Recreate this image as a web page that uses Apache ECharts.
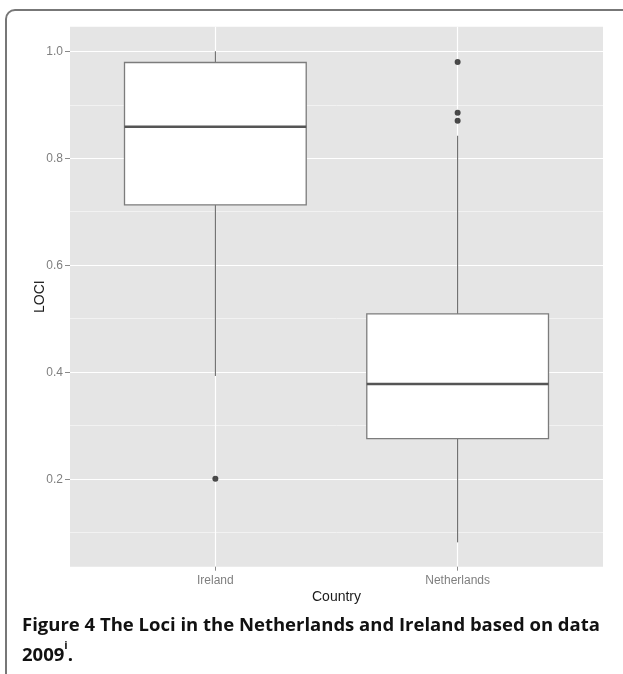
<!DOCTYPE html>
<html>
<head>
<meta charset="utf-8">
<script src="https://cdn.jsdelivr.net/npm/echarts@6/dist/echarts.min.js"></script>
<style>
html,body{margin:0;padding:0;background:#fff;}
#chart{width:623px;height:674px;}
</style>
</head>
<body>
<div id="chart"></div>
<script>
// ---- data ----
const categories = ['Ireland', 'Netherlands'];
const whiskerLow = [0.393, 0.082];
const lowerQuartile = [0.713, 0.276];
const medianValue = [0.859, 0.378];
const upperQuartile = [0.979, 0.509];
const whiskerHigh = [1.0, 0.842];
const outlierCountry = ['Ireland', 'Netherlands', 'Netherlands', 'Netherlands'];
const outlierValue = [0.201, 0.980, 0.885, 0.870];
const yTicks = [0.2, 0.4, 0.6, 0.8, 1.0];
const yMinorTicks = [0.1, 0.3, 0.5, 0.7, 0.9];
const yRange = [0.0365, 1.0459];
const xRange = [0.4, 2.6];
const xTitle = 'Country';
const yTitle = 'LOCI';

// ---- build ----
const xPos = categories.map((c, i) => i + 1);
const boxData = categories.map((c, i) => [xPos[i], whiskerLow[i], lowerQuartile[i], medianValue[i], upperQuartile[i], whiskerHigh[i]]);
const outlierData = outlierCountry.map((c, i) => [categories.indexOf(c) + 1, outlierValue[i]]);

const chart = echarts.init(document.getElementById('chart'), null, {renderer: 'canvas'});

function renderBox(params, api) {
  const x = api.value(0);
  const lo = api.coord([x, api.value(1)]);
  const q1 = api.coord([x, api.value(2)]);
  const md = api.coord([x, api.value(3)]);
  const q3 = api.coord([x, api.value(4)]);
  const hi = api.coord([x, api.value(5)]);
  const left = api.coord([x - 0.375, api.value(3)])[0];
  const right = api.coord([x + 0.375, api.value(3)])[0];
  const cx = lo[0];
  return {
    type: 'group',
    children: [
      {type: 'line', shape: {x1: cx, y1: q3[1], x2: cx, y2: hi[1]}, style: {stroke: '#5e5e5e', lineWidth: 1}},
      {type: 'line', shape: {x1: cx, y1: q1[1], x2: cx, y2: lo[1]}, style: {stroke: '#5e5e5e', lineWidth: 1}},
      {type: 'rect', shape: {x: left, y: q3[1], width: right - left, height: q1[1] - q3[1]},
        style: {fill: '#ffffff', stroke: '#7c7c7c', lineWidth: 1.3}},
      {type: 'line', shape: {x1: left, y1: md[1], x2: right, y2: md[1]}, style: {stroke: '#555555', lineWidth: 2.4}}
    ]
  };
}

const option = {
  animation: false,
  backgroundColor: '#ffffff',
  grid: {
    left: 70, top: 26.7, width: 533, height: 540,
    show: true, backgroundColor: '#E5E5E5', borderWidth: 0, containLabel: false
  },
  xAxis: {
    type: 'value', min: xRange[0], max: xRange[1],
    name: xTitle, nameLocation: 'middle', nameGap: 23, nameMoveOverlap: false,
    nameTextStyle: {fontFamily: 'Liberation Sans, Arial, sans-serif', fontSize: 14, color: '#1a1a1a'},
    axisLine: {show: false},
    axisTick: {show: true, customValues: xPos, length: 4, lineStyle: {color: '#8a8a8a', width: 1}},
    axisLabel: {
      customValues: xPos, margin: 8,
      fontFamily: 'Liberation Sans, Arial, sans-serif', fontSize: 12, color: '#7F7F7F',
      formatter: v => categories[Math.round(v) - 1] || ''
    },
    splitLine: {show: true, lineStyle: {color: '#FFFFFF', width: 1.2}},
    minorSplitLine: {show: false}
  },
  yAxis: [
    {
      type: 'value', min: yRange[0], max: yRange[1],
      name: yTitle, nameLocation: 'middle', nameGap: 23, nameRotate: 90, nameMoveOverlap: false,
      nameTextStyle: {fontFamily: 'Liberation Sans, Arial, sans-serif', fontSize: 14, color: '#1a1a1a'},
      axisLine: {show: false},
      axisTick: {show: true, customValues: yTicks, length: 5, lineStyle: {color: '#8a8a8a', width: 1}},
      axisLabel: {
        customValues: yTicks, margin: 7,
        fontFamily: 'Liberation Sans, Arial, sans-serif', fontSize: 12, color: '#7F7F7F',
        formatter: v => v.toFixed(1)
      },
      splitLine: {show: true, lineStyle: {color: '#FFFFFF', width: 1.2}}
    },
    {
      type: 'value', min: yRange[0], max: yRange[1], position: 'left',
      axisLine: {show: false},
      axisTick: {show: false, customValues: yMinorTicks},
      axisLabel: {show: false, customValues: yMinorTicks},
      splitLine: {show: true, lineStyle: {color: '#F2F2F2', width: 1}}
    }
  ],
  series: [
    {
      type: 'custom', name: 'box', xAxisIndex: 0, yAxisIndex: 0,
      renderItem: renderBox, data: boxData, z: 3,
      encode: {x: 0, y: [1, 2, 3, 4, 5]}
    },
    {
      type: 'scatter', name: 'outliers', xAxisIndex: 0, yAxisIndex: 0,
      data: outlierData, symbol: 'circle', symbolSize: 6, z: 4,
      itemStyle: {color: '#1f1f1f'}
    }
  ],
  graphic: [
    {
      type: 'polyline', silent: true,
      shape: {points: [[6, 674], [6, 19]]},
      style: {fill: null, stroke: '#777777', lineWidth: 2}
    },
    {
      type: 'arc', silent: true,
      shape: {cx: 15, cy: 19, r: 9, startAngle: Math.PI, endAngle: Math.PI * 1.5, clockwise: true},
      style: {fill: null, stroke: '#777777', lineWidth: 2}
    },
    {
      type: 'polyline', silent: true,
      shape: {points: [[15, 10], [623, 10]]},
      style: {fill: null, stroke: '#777777', lineWidth: 2}
    },
    {
      type: 'text', left: 22, top: 616,
      style: {
        text: '{t|Figure 4 The Loci in the Netherlands and Ireland based on data}\n{t|2009}{s|i}{t|.}',
        rich: {
          t: {fontFamily: 'Open Sans, Lato, sans-serif', fontWeight: 'bold', fontSize: 18.5, lineHeight: 30, fill: '#111'},
          s: {fontFamily: 'Open Sans, Lato, sans-serif', fontWeight: 'bold', fontSize: 11, lineHeight: 20, verticalAlign: 'top', fill: '#111'}
        }
      }
    }
  ]
};
chart.setOption(option);
</script>
</body>
</html>
